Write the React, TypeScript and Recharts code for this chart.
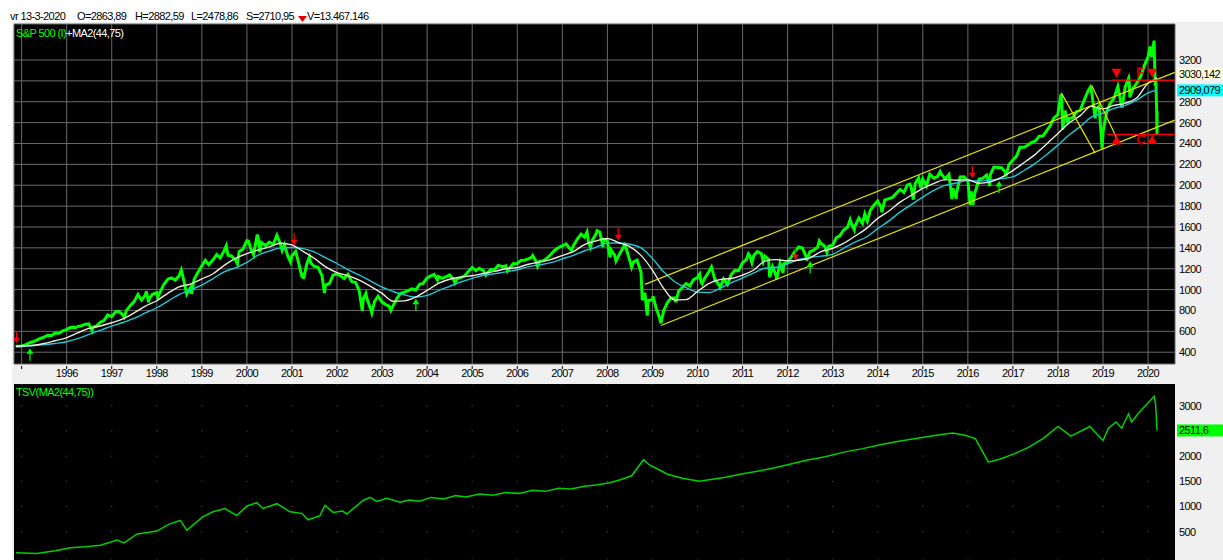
import React from 'react';
import { ComposedChart, Line, Scatter, XAxis, YAxis, CartesianGrid, ReferenceLine } from 'recharts';

const FONT = '"Liberation Sans", Arial, sans-serif';

// S&P 500: month ends plus the bigger intramonth swings
const spx: [string, number][] = [
  ['1994-11-15', 457], ['1994-12-30', 459],
  ['1995-01-31', 470], ['1995-02-28', 487], ['1995-03-31', 500], ['1995-04-28', 514], ['1995-05-31', 533], ['1995-06-30', 545],
  ['1995-07-31', 562], ['1995-08-31', 561], ['1995-09-29', 584], ['1995-10-31', 582], ['1995-11-30', 605], ['1995-12-29', 616],
  ['1996-01-31', 636], ['1996-02-29', 640], ['1996-03-08', 633], ['1996-03-29', 645], ['1996-04-30', 654], ['1996-05-31', 669],
  ['1996-06-28', 671], ['1996-07-24', 606], ['1996-07-31', 639], ['1996-08-30', 652], ['1996-09-30', 687], ['1996-10-31', 705],
  ['1996-11-29', 757], ['1996-12-31', 741],
  ['1997-01-31', 786], ['1997-02-28', 791], ['1997-03-31', 757], ['1997-04-11', 737], ['1997-04-30', 801], ['1997-05-30', 848],
  ['1997-06-30', 885], ['1997-07-31', 954], ['1997-08-29', 899], ['1997-09-30', 947], ['1997-10-07', 983], ['1997-10-27', 877],
  ['1997-10-31', 915], ['1997-11-28', 955], ['1997-12-31', 970],
  ['1998-01-09', 927], ['1998-01-30', 980], ['1998-02-27', 1049], ['1998-03-31', 1102], ['1998-04-30', 1112], ['1998-05-29', 1091],
  ['1998-06-30', 1134], ['1998-07-17', 1187], ['1998-07-31', 1120], ['1998-08-31', 957], ['1998-09-30', 1017], ['1998-10-08', 959],
  ['1998-10-30', 1098], ['1998-11-30', 1164], ['1998-12-31', 1229],
  ['1999-01-29', 1280], ['1999-02-26', 1238], ['1999-03-31', 1286], ['1999-04-30', 1335], ['1999-05-28', 1302], ['1999-06-30', 1373],
  ['1999-07-16', 1418], ['1999-07-30', 1329], ['1999-08-31', 1320], ['1999-09-30', 1283], ['1999-10-15', 1247], ['1999-10-29', 1363],
  ['1999-11-30', 1389], ['1999-12-31', 1469],
  ['2000-01-14', 1465], ['2000-01-31', 1394], ['2000-02-25', 1333], ['2000-02-29', 1366], ['2000-03-24', 1527], ['2000-03-31', 1499],
  ['2000-04-14', 1357], ['2000-04-28', 1452], ['2000-05-31', 1421], ['2000-06-30', 1455], ['2000-07-31', 1431], ['2000-09-01', 1520],
  ['2000-09-29', 1437], ['2000-10-13', 1374], ['2000-10-31', 1429], ['2000-11-30', 1315], ['2000-12-20', 1264], ['2000-12-29', 1320],
  ['2001-01-31', 1366], ['2001-02-28', 1240], ['2001-03-22', 1117], ['2001-03-30', 1160], ['2001-04-04', 1103], ['2001-04-30', 1249],
  ['2001-05-21', 1312], ['2001-05-31', 1256], ['2001-06-29', 1224], ['2001-07-31', 1211], ['2001-08-31', 1134], ['2001-09-21', 966],
  ['2001-09-28', 1041], ['2001-10-31', 1060], ['2001-11-30', 1139], ['2001-12-31', 1148],
  ['2002-01-31', 1130], ['2002-02-28', 1107], ['2002-03-28', 1147], ['2002-04-30', 1076], ['2002-05-31', 1067], ['2002-06-28', 990],
  ['2002-07-23', 797], ['2002-07-31', 912], ['2002-08-22', 962], ['2002-08-30', 916], ['2002-09-30', 815], ['2002-10-09', 777],
  ['2002-10-31', 886], ['2002-11-29', 936], ['2002-12-31', 880],
  ['2003-01-31', 856], ['2003-02-28', 841], ['2003-03-11', 800], ['2003-03-31', 848], ['2003-04-30', 917], ['2003-05-30', 964],
  ['2003-06-30', 975], ['2003-07-31', 990], ['2003-08-29', 1008], ['2003-09-30', 996], ['2003-10-31', 1051], ['2003-11-28', 1058],
  ['2003-12-31', 1112],
  ['2004-01-30', 1131], ['2004-02-27', 1145], ['2004-03-24', 1091], ['2004-03-31', 1126], ['2004-04-30', 1107], ['2004-05-28', 1121],
  ['2004-06-30', 1141], ['2004-07-30', 1102], ['2004-08-13', 1064], ['2004-08-31', 1104], ['2004-09-30', 1115], ['2004-10-29', 1130],
  ['2004-11-30', 1174], ['2004-12-31', 1212],
  ['2005-01-31', 1181], ['2005-02-28', 1204], ['2005-03-31', 1181], ['2005-04-20', 1138], ['2005-04-29', 1157], ['2005-05-31', 1192],
  ['2005-06-30', 1191], ['2005-07-29', 1234], ['2005-08-31', 1220], ['2005-09-30', 1229], ['2005-10-13', 1177], ['2005-10-31', 1207],
  ['2005-11-30', 1249], ['2005-12-30', 1248],
  ['2006-01-31', 1280], ['2006-02-28', 1281], ['2006-03-31', 1295], ['2006-04-28', 1311], ['2006-05-05', 1326], ['2006-05-31', 1270],
  ['2006-06-13', 1223], ['2006-06-30', 1270], ['2006-07-31', 1277], ['2006-08-31', 1304], ['2006-09-29', 1336], ['2006-10-31', 1378],
  ['2006-11-30', 1401], ['2006-12-29', 1418],
  ['2007-01-31', 1438], ['2007-02-27', 1399], ['2007-03-14', 1377], ['2007-03-30', 1421], ['2007-04-30', 1482], ['2007-05-31', 1531],
  ['2007-06-29', 1503], ['2007-07-19', 1553], ['2007-07-31', 1455], ['2007-08-16', 1406], ['2007-08-31', 1474], ['2007-09-28', 1527],
  ['2007-10-09', 1565], ['2007-10-31', 1549], ['2007-11-26', 1407], ['2007-11-30', 1481], ['2007-12-31', 1468],
  ['2008-01-22', 1310], ['2008-01-31', 1379], ['2008-02-29', 1331], ['2008-03-10', 1273], ['2008-03-31', 1323], ['2008-04-30', 1386],
  ['2008-05-19', 1426], ['2008-05-30', 1400], ['2008-06-30', 1280], ['2008-07-15', 1214], ['2008-07-31', 1267], ['2008-08-29', 1283],
  ['2008-09-30', 1166], ['2008-10-10', 899], ['2008-10-31', 969], ['2008-11-20', 752], ['2008-11-28', 896], ['2008-12-31', 903],
  ['2009-01-06', 935], ['2009-01-30', 826], ['2009-02-27', 735], ['2009-03-09', 677], ['2009-03-31', 798], ['2009-04-30', 873],
  ['2009-05-29', 919], ['2009-06-30', 919], ['2009-07-08', 880], ['2009-07-31', 987], ['2009-08-31', 1021], ['2009-09-30', 1057],
  ['2009-10-30', 1036], ['2009-11-30', 1096], ['2009-12-31', 1115],
  ['2010-01-19', 1150], ['2010-01-29', 1074], ['2010-02-08', 1056], ['2010-02-26', 1104], ['2010-03-31', 1169], ['2010-04-23', 1217],
  ['2010-04-30', 1187], ['2010-05-25', 1074], ['2010-05-28', 1089], ['2010-06-30', 1031], ['2010-07-02', 1022], ['2010-07-30', 1102],
  ['2010-08-31', 1049], ['2010-09-30', 1141], ['2010-10-29', 1183], ['2010-11-30', 1181], ['2010-12-31', 1258],
  ['2011-01-31', 1286], ['2011-02-18', 1343], ['2011-02-28', 1327], ['2011-03-16', 1257], ['2011-03-31', 1326], ['2011-04-29', 1364],
  ['2011-05-31', 1345], ['2011-06-16', 1268], ['2011-06-30', 1321], ['2011-07-29', 1292], ['2011-08-08', 1119], ['2011-08-31', 1219],
  ['2011-09-30', 1131], ['2011-10-03', 1099], ['2011-10-31', 1253], ['2011-11-25', 1159], ['2011-11-30', 1247], ['2011-12-30', 1258],
  ['2012-01-31', 1312], ['2012-02-29', 1366], ['2012-03-30', 1408], ['2012-04-30', 1398], ['2012-05-31', 1310], ['2012-06-04', 1278],
  ['2012-06-29', 1362], ['2012-07-31', 1379], ['2012-08-31', 1407], ['2012-09-14', 1466], ['2012-09-28', 1441], ['2012-10-31', 1412],
  ['2012-11-15', 1353], ['2012-11-30', 1416], ['2012-12-31', 1426],
  ['2013-01-31', 1498], ['2013-02-28', 1515], ['2013-03-28', 1569], ['2013-04-30', 1598], ['2013-05-21', 1669], ['2013-05-31', 1631],
  ['2013-06-24', 1573], ['2013-06-28', 1606], ['2013-07-31', 1686], ['2013-08-30', 1633], ['2013-09-18', 1725], ['2013-09-30', 1682],
  ['2013-10-08', 1656], ['2013-10-31', 1757], ['2013-11-29', 1806], ['2013-12-31', 1848],
  ['2014-01-31', 1783], ['2014-02-03', 1741], ['2014-02-28', 1859], ['2014-03-31', 1872], ['2014-04-30', 1884], ['2014-05-30', 1924],
  ['2014-06-30', 1960], ['2014-07-31', 1931], ['2014-08-29', 2003], ['2014-09-19', 2011], ['2014-09-30', 1972], ['2014-10-15', 1862],
  ['2014-10-31', 2018], ['2014-11-28', 2068], ['2014-12-16', 1972], ['2014-12-31', 2059],
  ['2015-01-30', 1995], ['2015-02-27', 2105], ['2015-03-31', 2068], ['2015-04-30', 2086], ['2015-05-20', 2131], ['2015-05-29', 2107],
  ['2015-06-30', 2063], ['2015-07-31', 2104], ['2015-08-24', 1867], ['2015-08-31', 1972], ['2015-09-29', 1872], ['2015-09-30', 1920],
  ['2015-10-30', 2079], ['2015-11-30', 2080], ['2015-12-31', 2044],
  ['2016-01-20', 1812], ['2016-01-29', 1940], ['2016-02-11', 1810], ['2016-02-29', 1932], ['2016-03-31', 2060], ['2016-04-29', 2065],
  ['2016-05-31', 2097], ['2016-06-27', 1992], ['2016-06-30', 2099], ['2016-07-29', 2174], ['2016-08-31', 2171], ['2016-09-30', 2168],
  ['2016-10-31', 2126], ['2016-11-04', 2084], ['2016-11-30', 2199], ['2016-12-30', 2239],
  ['2017-01-31', 2279], ['2017-02-28', 2364], ['2017-03-31', 2363], ['2017-04-28', 2384], ['2017-05-31', 2412], ['2017-06-30', 2423],
  ['2017-07-31', 2470], ['2017-08-31', 2472], ['2017-09-29', 2519], ['2017-10-31', 2575], ['2017-11-30', 2648], ['2017-12-29', 2674],
  ['2018-01-26', 2873], ['2018-01-31', 2824], ['2018-02-09', 2533], ['2018-02-28', 2714], ['2018-03-23', 2588], ['2018-03-30', 2641],
  ['2018-04-30', 2648], ['2018-05-31', 2705], ['2018-06-29', 2718], ['2018-07-31', 2816], ['2018-08-31', 2902], ['2018-09-20', 2940],
  ['2018-09-28', 2914], ['2018-10-29', 2641], ['2018-10-31', 2712], ['2018-11-30', 2760], ['2018-12-24', 2351], ['2018-12-31', 2507],
  ['2019-01-31', 2704], ['2019-02-28', 2784], ['2019-03-29', 2834], ['2019-04-30', 2946], ['2019-05-31', 2752], ['2019-06-03', 2744],
  ['2019-06-28', 2942], ['2019-07-26', 3026], ['2019-07-31', 2980], ['2019-08-05', 2844], ['2019-08-30', 2926], ['2019-09-30', 2977],
  ['2019-10-31', 3038], ['2019-11-29', 3141], ['2019-12-31', 3231],
  ['2020-01-17', 3330], ['2020-01-31', 3226], ['2020-02-19', 3386], ['2020-02-28', 2954], ['2020-03-03', 3003], ['2020-03-09', 2747],
  ['2020-03-12', 2481], ['2020-03-13', 2711],
];

// white moving average (44)
const ma44: [string, number][] = [
  ['1994-11-15', 457], ['1995-03-31', 466], ['1995-06-30', 484], ['1995-09-29', 510], ['1995-12-29', 537], ['1996-03-29', 585],
  ['1996-06-28', 628], ['1996-09-30', 651], ['1996-12-31', 682], ['1997-03-31', 719], ['1997-06-30', 776], ['1997-09-30', 841],
  ['1997-12-31', 893], ['1998-03-31', 966], ['1998-06-30', 1026], ['1998-09-30', 1053], ['1998-12-31', 1102], ['1999-03-31', 1152],
  ['1999-06-30', 1232], ['1999-09-30', 1298], ['1999-12-31', 1345], ['2000-03-31', 1379], ['2000-06-30', 1409], ['2000-09-29', 1444],
  ['2000-12-29', 1428], ['2001-03-30', 1367], ['2001-06-29', 1300], ['2001-09-28', 1220], ['2001-12-31', 1162], ['2002-03-28', 1134],
  ['2002-06-28', 1091], ['2002-09-30', 1031], ['2002-12-31', 963], ['2003-03-31', 888], ['2003-06-30', 892], ['2003-09-30', 928],
  ['2003-12-31', 992], ['2004-03-31', 1059], ['2004-06-30', 1099], ['2004-09-30', 1120], ['2004-12-31', 1133], ['2005-03-31', 1154],
  ['2005-06-30', 1174], ['2005-09-30', 1200], ['2005-12-30', 1211], ['2006-03-31', 1243], ['2006-06-30', 1264], ['2006-09-29', 1287],
  ['2006-12-29', 1326], ['2007-03-30', 1365], ['2007-06-29', 1432], ['2007-09-28', 1466], ['2007-12-31', 1489], ['2008-03-31', 1449],
  ['2008-06-30', 1412], ['2008-09-30', 1328], ['2008-12-31', 1187], ['2009-03-31', 1012], ['2009-06-30', 900], ['2009-09-30', 904],
  ['2009-12-31', 982], ['2010-03-31', 1058], ['2010-06-30', 1096], ['2010-09-30', 1106], ['2010-12-31', 1139], ['2011-03-31', 1188],
  ['2011-06-30', 1273], ['2011-09-30', 1287], ['2011-12-30', 1276], ['2012-03-30', 1281], ['2012-06-29', 1305], ['2012-09-28', 1364],
  ['2012-12-31', 1396], ['2013-03-28', 1443], ['2013-06-28', 1511], ['2013-09-30', 1584], ['2013-12-31', 1682], ['2014-03-31', 1753],
  ['2014-06-30', 1838], ['2014-09-30', 1904], ['2014-12-31', 1969], ['2015-03-31', 2018], ['2015-06-30', 2054], ['2015-09-30', 2048],
  ['2015-12-31', 2052], ['2016-03-31', 2019], ['2016-06-30', 2032], ['2016-09-30', 2075], ['2016-12-30', 2140], ['2017-03-31', 2218],
  ['2017-06-30', 2296], ['2017-09-29', 2393], ['2017-12-29', 2494], ['2018-03-30', 2596], ['2018-06-29', 2667], ['2018-09-28', 2756],
  ['2018-12-31', 2732], ['2019-03-29', 2765], ['2019-06-28', 2786], ['2019-09-30', 2835], ['2019-12-31', 2977], ['2020-02-28', 3017],
  ['2020-03-13', 3030],
];

// cyan moving average (75)
const ma75: [string, number][] = [
  ['1994-11-15', 457], ['1995-03-31', 462], ['1995-06-30', 472], ['1995-09-29', 484], ['1995-12-29', 500], ['1996-03-29', 530],
  ['1996-06-28', 570], ['1996-09-30', 610], ['1996-12-31', 650], ['1997-03-31', 685], ['1997-06-30', 725], ['1997-09-30', 776],
  ['1997-12-31', 826], ['1998-03-31', 890], ['1998-06-30', 952], ['1998-09-30', 996], ['1998-12-31', 1043], ['1999-03-31', 1105],
  ['1999-06-30', 1170], ['1999-09-30', 1209], ['1999-12-31', 1261], ['2000-03-31', 1331], ['2000-06-30', 1369], ['2000-09-29', 1400],
  ['2000-12-29', 1404], ['2001-03-30', 1392], ['2001-06-29', 1361], ['2001-09-28', 1306], ['2001-12-31', 1250], ['2002-03-28', 1191],
  ['2002-06-28', 1140], ['2002-09-30', 1081], ['2002-12-31', 1023], ['2003-03-31', 982], ['2003-06-30', 949], ['2003-09-30', 929],
  ['2003-12-31', 944], ['2004-03-31', 990], ['2004-06-30', 1031], ['2004-09-30', 1073], ['2004-12-31', 1108], ['2005-03-31', 1138],
  ['2005-06-30', 1152], ['2005-09-30', 1170], ['2005-12-30', 1190], ['2006-03-31', 1220], ['2006-06-30', 1236], ['2006-09-29', 1258],
  ['2006-12-29', 1293], ['2007-03-30', 1328], ['2007-06-29', 1372], ['2007-09-28', 1405], ['2007-12-31', 1445], ['2008-03-31', 1446],
  ['2008-06-30', 1435], ['2008-09-30', 1400], ['2008-12-31', 1299], ['2009-03-31', 1170], ['2009-06-30', 1075], ['2009-09-30', 1018],
  ['2009-12-31', 976], ['2010-03-31', 972], ['2010-06-30', 1012], ['2010-09-30', 1064], ['2010-12-31', 1111], ['2011-03-31', 1160],
  ['2011-06-30', 1204], ['2011-09-30', 1214], ['2011-12-30', 1246], ['2012-03-30', 1288], ['2012-06-29', 1308], ['2012-09-28', 1321],
  ['2012-12-31', 1338], ['2013-03-28', 1396], ['2013-06-28', 1455], ['2013-09-30', 1504], ['2013-12-31', 1584], ['2014-03-31', 1658],
  ['2014-06-30', 1742], ['2014-09-30', 1814], ['2014-12-31', 1886], ['2015-03-31', 1950], ['2015-06-30', 1998], ['2015-09-30', 2021],
  ['2015-12-31', 2044], ['2016-03-31', 2040], ['2016-06-30', 2048], ['2016-09-30', 2063], ['2016-12-30', 2080], ['2017-03-31', 2141],
  ['2017-06-30', 2209], ['2017-09-29', 2292], ['2017-12-29', 2382], ['2018-03-30', 2482], ['2018-06-29', 2562], ['2018-09-28', 2652],
  ['2018-12-31', 2691], ['2019-03-29', 2736], ['2019-06-28', 2765], ['2019-09-30', 2816], ['2019-12-31', 2885], ['2020-02-28', 2907],
  ['2020-03-13', 2909],
];

// lower panel: TSV(MA2(44,75))
const tsv: [string, number][] = [
  ['1994-11-15', 80], ['1995-05-01', 62], ['1995-10-01', 120], ['1996-02-01', 180], ['1996-06-01', 200], ['1996-10-01', 228],
  ['1997-02-15', 333], ['1997-04-10', 276], ['1997-07-20', 448], ['1998-01-01', 511], ['1998-04-15', 653], ['1998-07-10', 722],
  ['1998-09-01', 524], ['1999-01-10', 798], ['1999-04-01', 894], ['1999-07-05', 959], ['1999-10-10', 818], ['2000-01-01', 1009],
  ['2000-03-20', 1074], ['2000-05-10', 959], ['2000-09-01', 1055], ['2000-12-15', 894], ['2001-03-20', 863], ['2001-05-10', 735],
  ['2001-08-15', 818], ['2001-09-25', 1022], ['2001-12-01', 882], ['2002-02-15', 907], ['2002-03-20', 850], ['2002-07-30', 1118],
  ['2002-09-25', 1181], ['2002-11-20', 1099], ['2003-02-10', 1162], ['2003-05-25', 1085], ['2003-08-10', 1130], ['2003-11-01', 1105],
  ['2004-02-01', 1180], ['2004-05-15', 1150], ['2004-08-20', 1215], ['2004-11-10', 1190], ['2005-03-01', 1245], ['2005-06-15', 1225],
  ['2005-10-01', 1275], ['2006-01-20', 1260], ['2006-05-01', 1320], ['2006-08-15', 1300], ['2006-12-01', 1360], ['2007-03-10', 1345],
  ['2007-07-01', 1400], ['2007-10-15', 1430], ['2008-01-20', 1470], ['2008-04-15', 1530], ['2008-07-15', 1610], ['2008-10-20', 1930],
  ['2008-12-10', 1820], ['2009-02-01', 1760], ['2009-05-01', 1640], ['2009-09-01', 1560], ['2010-01-15', 1500], ['2010-05-01', 1540],
  ['2010-08-15', 1580], ['2011-01-01', 1650], ['2011-05-01', 1700], ['2011-09-01', 1760], ['2012-01-01', 1830], ['2012-06-01', 1920],
  ['2012-11-01', 1990], ['2013-04-01', 2080], ['2013-09-01', 2150], ['2014-02-01', 2230], ['2014-07-01', 2300], ['2014-12-01', 2360],
  ['2015-05-01', 2420], ['2015-09-01', 2460], ['2015-12-15', 2410], ['2016-03-01', 2350], ['2016-06-15', 1880], ['2016-09-15', 1940],
  ['2017-01-15', 2050], ['2017-05-01', 2170], ['2017-09-01', 2350], ['2018-01-01', 2590], ['2018-04-15', 2400], ['2018-09-15', 2590],
  ['2018-12-31', 2311], ['2019-02-15', 2555], ['2019-04-15', 2680], ['2019-05-30', 2555], ['2019-07-25', 2840], ['2019-08-20', 2680],
  ['2019-09-30', 2810], ['2019-11-15', 2940], ['2020-01-15', 3095], ['2020-02-20', 3190], ['2020-03-01', 3030], ['2020-03-13', 2512],
];

const yearTicks = [1995, 1996, 1997, 1998, 1999, 2000, 2001, 2002, 2003, 2004, 2005, 2006, 2007, 2008, 2009, 2010, 2011, 2012, 2013, 2014, 2015, 2016, 2017, 2018, 2019, 2020];
const priceTicks = [400, 600, 800, 1000, 1200, 1400, 1600, 1800, 2000, 2200, 2400, 2600, 2800, 3000, 3200];
const tsvTicks = [500, 1000, 1500, 2000, 2500, 3000];
// tick labels hidden behind the value boxes
const priceHiddenLabels = [3000];
const tsvHiddenLabels = [2500];

// drawn objects on the price panel
const channelUpper: [string, number][] = [['2008-11-01', 1050], ['2020-08-04', 3081]];
const channelLower: [string, number][] = [['2009-03-09', 656], ['2020-08-04', 2624]];
const zigA: [string, number][] = [['2018-01-28', 2885], ['2018-10-28', 2308]];
const zigB: [string, number][] = [['2018-09-30', 2958], ['2019-05-03', 2420]];
const redHigh: [string, number][] = [['2019-03-10', 3008], ['2020-08-04', 3008]];
const redLow: [string, number][] = [['2019-02-03', 2488], ['2020-08-04', 2488]];
const triDown: [string, number][] = [['2019-04-19', 3073], ['2020-02-04', 3073]];
const triUp: [string, number][] = [['2019-04-19', 2433], ['2020-02-04', 2438]];
const letters: [string, number, string][] = [['2019-10-27', 3073, 'F'], ['2019-11-03', 2433, 'C']];
const sellArrows: [string, number][] = [['1994-11-21', 546], ['2001-01-19', 1485], ['2008-03-28', 1533], ['2012-03-04', 1343], ['2016-02-07', 2127]];
const buyArrows: [string, number][] = [['1995-03-08', 376], ['2003-10-01', 852], ['2012-07-01', 1211], ['2016-09-10', 1981]];

const lastWhite = 3030.142;
const lastCyan = 2909.079;
const lastTsv = 2511.6;

const toYear = (d: string) => {
  const [y, m, day] = d.split('-').map(Number);
  return y + (m - 1) / 12 + (day - 1) / 365;
};
const pts = (rows: [string, number][]) => rows.map(([d, v]) => ({ x: toYear(d), y: v }));
const seg = (rows: [string, number][]) => pts(rows) as [{ x: number; y: number }, { x: number; y: number }];

const X_DOMAIN: [number, number] = [1994.831, 2020.597];
const txt = { fontFamily: FONT, fontSize: 11, letterSpacing: -0.6 };

const YearTick = ({ x, y, payload }: any) => (
  <g>
    <line x1={x} x2={x} y1={y + 2} y2={y + 5} stroke="#000" />
    {payload.value !== 1995 && (
      <text x={x} y={y + 13} textAnchor="middle" fill="#000" style={txt}>{payload.value}</text>
    )}
  </g>
);

const RightTick = ({ x, y, payload, hidden }: any) =>
  hidden && hidden.includes(payload.value) ? <g /> : (
    <text x={x} y={y + 4} textAnchor="start" fill="#000" style={txt}>{payload.value}</text>
  );

const valueBox = (text: string, bg: string, shift = 0) => (props: any) => {
  const vb = props.viewBox || {};
  const x0 = vb.x + vb.width + 2;
  const cy = vb.y + shift;
  return (
    <g>
      <rect x={x0} y={cy - 6} width={48} height={12} fill={bg} />
      <text x={x0 + 2} y={cy + 4} fill="#000" style={txt}>{text}</text>
    </g>
  );
};

const ArrowDown = ({ cx, cy }: any) => (
  <g stroke="#ff0000" fill="#ff0000">
    <line x1={cx} x2={cx} y1={cy - 6} y2={cy + 2} strokeWidth={1.2} />
    <polygon points={`${cx - 3},${cy + 1} ${cx + 3},${cy + 1} ${cx},${cy + 6}`} strokeWidth={0.5} />
  </g>
);
const ArrowUp = ({ cx, cy }: any) => (
  <g stroke="#00ff00" fill="#00ff00">
    <line x1={cx} x2={cx} y1={cy - 2} y2={cy + 6} strokeWidth={1.2} />
    <polygon points={`${cx - 3},${cy - 1} ${cx + 3},${cy - 1} ${cx},${cy - 6}`} strokeWidth={0.5} />
  </g>
);
const TriangleDown = ({ cx, cy }: any) => (
  <polygon points={`${cx - 5},${cy - 4.5} ${cx + 5},${cy - 4.5} ${cx},${cy + 4.5}`} fill="#ff0000" />
);
const TriangleUp = ({ cx, cy }: any) => (
  <polygon points={`${cx - 5},${cy + 4.5} ${cx + 5},${cy + 4.5} ${cx},${cy - 4.5}`} fill="#ff0000" />
);
const Letter = ({ cx, cy, payload }: any) => (
  <text x={cx} y={cy + 4} textAnchor="middle" fill="none" stroke="#e00000" strokeWidth={0.8} style={{ fontFamily: FONT, fontSize: 12 }}>{payload.t}</text>
);

export default function App() {
  const price = pts(spx);
  const white = pts(ma44);
  const cyan = pts(ma75);
  const tsvData = pts(tsv);
  const letterData = letters.map(([d, v, t]) => ({ x: toYear(d), y: v, t }));

  return (
    <div style={{ position: 'absolute', left: 0, top: 0, width: 1223, height: 560, background: '#ffffff', overflow: 'hidden', fontFamily: FONT }}>
      {/* grey panel areas behind axis labels */}
      <div style={{ position: 'absolute', left: 12, top: 22, width: 1211, height: 538, background: '#f0f0f0' }} />

      {/* header line */}
      <div style={{ position: 'absolute', top: 10, left: 0, height: 13, fontSize: 11, letterSpacing: -0.6, color: '#000', lineHeight: '13px', whiteSpace: 'nowrap' }}>
        <span style={{ position: 'absolute', left: 10 }}>vr 13-3-2020</span>
        <span style={{ position: 'absolute', left: 77 }}>O=2863,89</span>
        <span style={{ position: 'absolute', left: 135 }}>H=2882,59</span>
        <span style={{ position: 'absolute', left: 191 }}>L=2478,86</span>
        <span style={{ position: 'absolute', left: 246 }}>S=2710,95</span>
        <svg style={{ position: 'absolute', left: 298, top: 6 }} width={9} height={6}>
          <polygon points="0,0 9,0 4.5,6" fill="#e00000" />
        </svg>
        <span style={{ position: 'absolute', left: 307 }}>V=13.467.146</span>
      </div>

      {/* price panel */}
      <div style={{ position: 'absolute', left: 0, top: 0 }}>
        <ComposedChart width={1223} height={385} margin={{ top: 24, right: 0, bottom: 0, left: 14 }}>
          <CartesianGrid fill="#000000" stroke="#6a6a6a" strokeWidth={1} />
          <XAxis
            dataKey="x"
            type="number"
            domain={X_DOMAIN}
            allowDataOverflow
            ticks={yearTicks}
            interval={0}
            height={21}
            axisLine={false}
            tickLine={false}
            tickSize={0}
            tickMargin={0}
            tick={<YearTick />}
          />
          <YAxis
            orientation="right"
            type="number"
            domain={[287, 3545]}
            allowDataOverflow
            ticks={priceTicks}
            interval={0}
            width={48}
            axisLine={false}
            tickLine={false}
            tickSize={0}
            tickMargin={4}
            tick={<RightTick hidden={priceHiddenLabels} />}
          />
          <Line data={price} dataKey="y" type="linear" stroke="#00ff00" strokeWidth={3} dot={false} isAnimationActive={false} />
          <Line data={cyan} dataKey="y" type="monotone" stroke="#1ec8d6" strokeWidth={1.4} dot={false} isAnimationActive={false} />
          <Line data={white} dataKey="y" type="monotone" stroke="#ecebdc" strokeWidth={1.4} dot={false} isAnimationActive={false} />
          <ReferenceLine segment={seg(channelUpper)} stroke="#e4e400" strokeWidth={1.2} ifOverflow="visible" />
          <ReferenceLine segment={seg(channelLower)} stroke="#e4e400" strokeWidth={1.2} ifOverflow="visible" />
          <ReferenceLine segment={seg(zigA)} stroke="#e4e400" strokeWidth={1.2} ifOverflow="visible" />
          <ReferenceLine segment={seg(zigB)} stroke="#e4e400" strokeWidth={1.2} ifOverflow="visible" />
          <ReferenceLine segment={seg(redHigh)} stroke="#ff0000" strokeWidth={1.2} ifOverflow="visible" />
          <ReferenceLine segment={seg(redLow)} stroke="#ff0000" strokeWidth={1.2} ifOverflow="visible" />
          <Scatter data={pts(sellArrows)} dataKey="y" shape={<ArrowDown />} isAnimationActive={false} />
          <Scatter data={pts(buyArrows)} dataKey="y" shape={<ArrowUp />} isAnimationActive={false} />
          <Scatter data={pts(triDown)} dataKey="y" shape={<TriangleDown />} isAnimationActive={false} />
          <Scatter data={pts(triUp)} dataKey="y" shape={<TriangleUp />} isAnimationActive={false} />
          <Scatter data={letterData} dataKey="y" shape={<Letter />} isAnimationActive={false} />
          <ReferenceLine y={lastWhite} stroke="none" label={valueBox('3030,142', '#ffffe1', -4)} />
          <ReferenceLine y={lastCyan} stroke="none" label={valueBox('2909,079', '#00ffff')} />
        </ComposedChart>
      </div>
      <div style={{ position: 'absolute', left: 16, top: 27, fontSize: 11, letterSpacing: -0.6, lineHeight: '13px', whiteSpace: 'nowrap' }}>
        <span style={{ color: '#00ff00' }}>S&amp;P 500 (I)</span>
        <span style={{ color: '#ffffff' }}>+MA2(44,75)</span>
      </div>

      {/* TSV panel */}
      <div style={{ position: 'absolute', left: 0, top: 384 }}>
        <ComposedChart width={1223} height={176} margin={{ top: 0, right: 0, bottom: 0, left: 14 }}>
          <CartesianGrid fill="#000000" vertical={false} stroke="#5c5c5c" strokeDasharray="1 44.06" strokeDashoffset={37.96} />
          <XAxis dataKey="x" type="number" domain={X_DOMAIN} allowDataOverflow ticks={yearTicks} hide />
          <YAxis
            orientation="right"
            type="number"
            domain={[-65, 3435]}
            allowDataOverflow
            ticks={tsvTicks}
            interval={0}
            width={48}
            axisLine={false}
            tickLine={false}
            tickSize={0}
            tickMargin={4}
            tick={<RightTick hidden={tsvHiddenLabels} />}
          />
          <Line data={tsvData} dataKey="y" type="linear" stroke="#00d000" strokeWidth={1.5} dot={false} isAnimationActive={false} />
          <ReferenceLine y={lastTsv} stroke="none" label={valueBox('2511,6', '#00ff00')} />
        </ComposedChart>
      </div>
      <div style={{ position: 'absolute', left: 16, top: 386, fontSize: 11, letterSpacing: -0.6, lineHeight: '13px', color: '#00ff00', whiteSpace: 'nowrap' }}>
        TSV(MA2(44,75))
      </div>
    </div>
  );
}
